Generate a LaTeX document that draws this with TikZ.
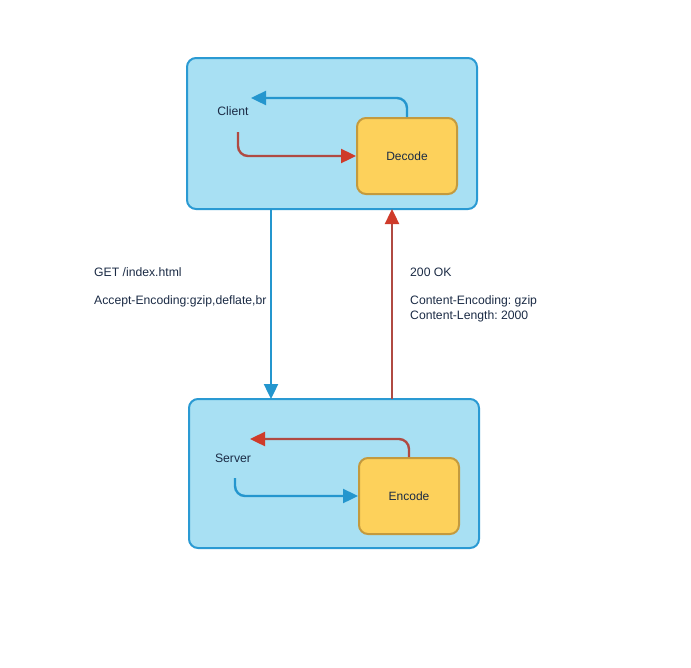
\documentclass[tikz,border=0pt]{standalone}
\usepackage{fontspec}
\setmainfont{Liberation Sans}
\usetikzlibrary{arrows.meta}
\frenchspacing
\definecolor{panelfill}{HTML}{A8E0F3}
\definecolor{panelline}{HTML}{2A9AD3}
\definecolor{codefill}{HTML}{FDD15B}
\definecolor{codeline}{HTML}{C39A3E}
\definecolor{flowblue}{HTML}{2496CE}
\definecolor{flowred}{HTML}{B04A42}
\definecolor{tipred}{HTML}{CF3B2A}
\definecolor{labeltext}{HTML}{1B2B45}
\tikzset{
  panel/.style={draw=panelline, fill=panelfill, line width=2pt, rounded corners=9pt, minimum width=290pt, minimum height=151pt, inner sep=0pt},
  codebox/.style={draw=codeline, fill=codefill, line width=2pt, rounded corners=9pt, minimum width=100pt, minimum height=76pt, inner sep=0pt, text=labeltext, font=\fontsize{12}{14}\selectfont},
  lbl/.style={text=labeltext, font=\fontsize{12.2}{14}\selectfont, inner sep=0pt},
  bluearrow/.style={draw=flowblue, line width=2.4pt, rounded corners=10pt, -{Triangle[length=15pt,width=14pt]}},
  redarrow/.style={draw=flowred, line width=2.4pt, rounded corners=10pt, -{Triangle[length=15pt,width=14pt,color=tipred]}},
}
\begin{document}
\begin{tikzpicture}[x=1pt,y=-1pt]
\useasboundingbox (0,0) rectangle (691,667);

% client side
\node[panel] (client) at (332,133.5) {};
\node[codebox] (decode) at (407,156) {Decode};
\node[lbl] (clientlbl) at (233,111) {Client};
\coordinate (cstart) at (238,132);
\coordinate (cend) at (251,98);
\draw[bluearrow] (decode.north) |- (cend);
\draw[redarrow] (cstart) |- (decode.west);

% server side
\node[panel, minimum height=149pt] (server) at (334,473.5) {};
\node[codebox] (encode) at (409,496) {Encode};
\node[lbl] (serverlbl) at (233,458) {Server};
\coordinate (sstart) at (235,478);
\coordinate (send) at (250,439);
\draw[redarrow] (encode.north) |- (send);
\draw[bluearrow] (sstart) |- (encode.west);

% request and response
\draw[bluearrow, rounded corners=0pt] (271,209) -- (271,399);
\draw[redarrow, rounded corners=0pt] (392,399) -- (392,209);

\node[lbl, anchor=base west] (req1) at (94,276) {GET /index.html};
\node[lbl, anchor=base west] (req2) at (94,304) {Accept-Encoding:gzip,deflate,br};
\node[lbl, anchor=base west] (res1) at (410,276) {200 OK};
\node[lbl, anchor=base west] (res2) at (410,304) {Content-Encoding: gzip};
\node[lbl, anchor=base west] (res3) at (410,319) {Content-Length: 2000};
\end{tikzpicture}
\end{document}
